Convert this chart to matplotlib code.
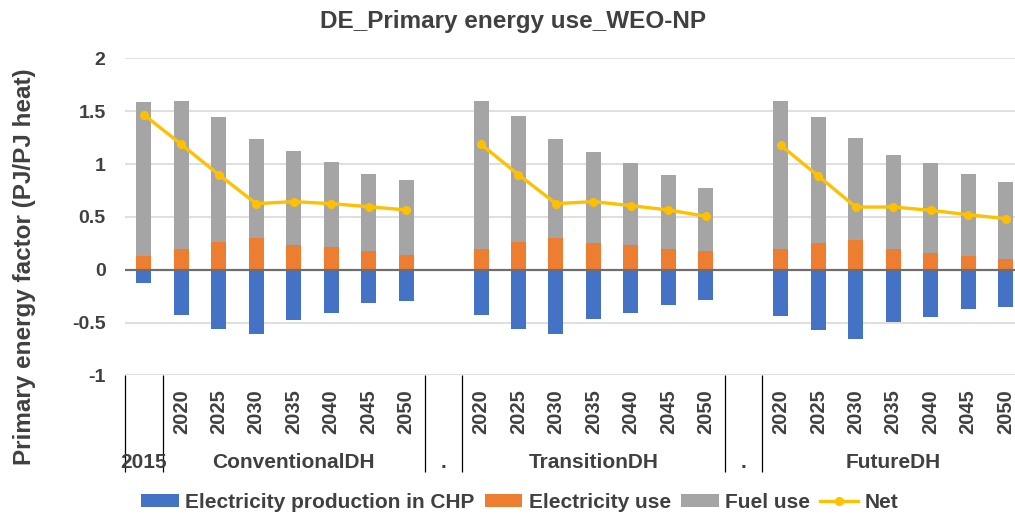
import matplotlib
matplotlib.use("Agg")
import matplotlib.pyplot as plt
import matplotlib.transforms as mtransforms
import numpy as np

plt.rcParams['font.family'] = ['Liberation Sans', 'DejaVu Sans']
plt.rcParams['font.weight'] = 'bold'

# Values
years = ['2020', '2025', '2030', '2035', '2040', '2045', '2050']
groups = ['ConventionalDH', 'TransitionDH', 'FutureDH']

# 2015 base year
base_prod = -0.126
base_use = 0.133
base_fuel = 1.451
base_net = 1.467

conv_prod = [-0.426, -0.558, -0.608, -0.479, -0.407, -0.318, -0.296]
conv_use = [0.199, 0.265, 0.303, 0.231, 0.212, 0.174, 0.142]
conv_fuel = [1.401, 1.179, 0.930, 0.892, 0.810, 0.728, 0.710]
conv_net = [1.186, 0.899, 0.625, 0.644, 0.625, 0.596, 0.565]

trans_prod = [-0.426, -0.558, -0.608, -0.466, -0.407, -0.337, -0.287]
trans_use = [0.199, 0.265, 0.303, 0.253, 0.231, 0.199, 0.180]
trans_fuel = [1.401, 1.189, 0.930, 0.861, 0.781, 0.694, 0.593]
trans_net = [1.186, 0.899, 0.625, 0.644, 0.606, 0.565, 0.505]

fut_prod = [-0.438, -0.568, -0.659, -0.498, -0.448, -0.375, -0.356]
fut_use = [0.199, 0.253, 0.284, 0.199, 0.161, 0.133, 0.101]
fut_fuel = [1.401, 1.191, 0.959, 0.883, 0.851, 0.769, 0.732]
fut_net = [1.177, 0.887, 0.593, 0.593, 0.562, 0.520, 0.483]

gap = [np.nan]  # the "." category slots are empty


def join(base, a, b, c):
    return np.array([base] + a + gap + b + gap + c, dtype=float)


prod = join(base_prod, conv_prod, trans_prod, fut_prod)
use = join(base_use, conv_use, trans_use, fut_use)
fuel = join(base_fuel, conv_fuel, trans_fuel, fut_fuel)
net = join(base_net, conv_net, trans_net, fut_net)

x = np.arange(len(prod))
text_col = '#404040'

fig = plt.figure(figsize=(10.15, 5.16), dpi=100)
ax = fig.add_axes([0.1232, 0.2725, 0.886, 0.6145])

w = 0.4
b1 = ax.bar(x, prod, w, color='#4472C4', label='Electricity production in CHP', zorder=2)
b2 = ax.bar(x, use, w, color='#ED7D31', label='Electricity use', zorder=2)
b3 = ax.bar(x, fuel, w, bottom=use, color='#A5A5A5', label='Fuel use', zorder=2)
l1, = ax.plot(x, net, color='#FFC000', lw=2.4, marker='o', ms=5.5, label='Net', zorder=4)

ax.axhline(0, color='#6e6e6e', lw=1.6, zorder=3)

ax.set_ylim(-1, 2)
ax.set_xlim(-0.5, len(x) - 0.5)
ax.set_yticks([-1, -0.5, 0, 0.5, 1, 1.5, 2])
ax.set_yticklabels(['-1', '-0.5', '0', '0.5', '1', '1.5', '2'])
ax.yaxis.grid(True, color='#d9d9d9', lw=1.2, zorder=0)
ax.set_axisbelow(True)
for s in ax.spines.values():
    s.set_visible(False)
ax.tick_params(axis='y', length=0, labelsize=14, labelcolor=text_col, pad=14)

# year labels (first level of the category axis)
year_pos = [i for i in x if not np.isnan(prod[i]) and i != 0]
ax.set_xticks(year_pos)
ax.set_xticklabels(years * 3, rotation=90)
ax.tick_params(axis='x', which='major', length=0, labelsize=14.5,
               labelcolor=text_col, pad=10)

# group separators drawn as long minor ticks
ax.set_xticks([-0.5, 0.5, 7.5, 8.5, 15.5, 16.5, 23.5], minor=True)
ax.tick_params(axis='x', which='minor', length=70, width=0.9, color='black')

# second level labels
trans = mtransforms.blended_transform_factory(ax.transData, ax.transAxes)
group_pos = [0, 4, 8, 12, 16, 20]
group_labels = ['2015', groups[0], '.', groups[1], '.', groups[2]]
for p, lab in zip(group_pos, group_labels):
    ax.text(p, -0.276, lab, transform=trans, ha='center', va='center',
            fontsize=15, color=text_col, fontweight='bold')

fig.text(0.024, 0.484, 'Primary energy factor (PJ/PJ heat)', rotation=90,
         ha='center', va='center', fontsize=17.5, color=text_col, fontweight='bold')
fig.text(0.505, 0.958, 'DE_Primary energy use_WEO-NP', ha='center', va='center',
         fontsize=17.5, color=text_col, fontweight='bold')

fig.legend([b1, b2, b3, l1],
           ['Electricity production in CHP', 'Electricity use', 'Fuel use', 'Net'],
           loc='center', bbox_to_anchor=(0.512, 0.027), ncol=4, frameon=False,
           fontsize=15, labelcolor=text_col, handlelength=1.8, handleheight=0.6,
           handletextpad=0.3, columnspacing=0.5)

fig.savefig('out.png', dpi=100)
